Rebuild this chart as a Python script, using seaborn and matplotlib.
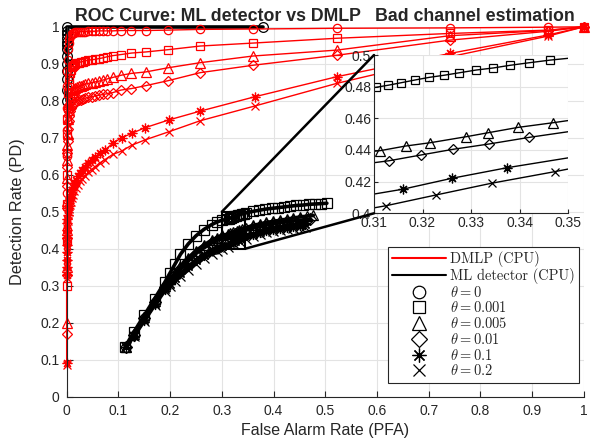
import numpy as np
import pandas as pd
import seaborn as sns
import matplotlib.pyplot as plt
from matplotlib.lines import Line2D
from matplotlib.patches import Rectangle, ConnectionPatch

# ---- DMLP (CPU) curves ----
# false alarm rates shared by theta = 0, 0.001, 0.005, 0.01
fpr_a = [0, 0, 0, 0, 0, 0.001, 0.0015, 0.002, 0.003, 0.004, 0.005, 0.0065, 0.008, 0.01, 0.012,
         0.014, 0.017, 0.02, 0.023, 0.027, 0.031, 0.036, 0.042, 0.048, 0.055, 0.062, 0.07, 0.078,
         0.089, 0.105, 0.125, 0.153, 0.195, 0.258, 0.36, 0.522, 0.741, 0.931, 1.0]
dmlp_t0 = [0.45, 0.55, 0.65, 0.72, 0.78, 0.84, 0.88, 0.91, 0.94, 0.957, 0.967, 0.974, 0.978, 0.981, 0.983,
           0.984, 0.985, 0.986, 0.986, 0.987, 0.987, 0.987, 0.988, 0.988, 0.988, 0.989, 0.989, 0.989,
           0.989, 0.99, 0.99, 0.99, 0.991, 0.993, 0.994, 0.996, 0.997, 0.999, 1.0]
dmlp_t1 = [0.30, 0.42, 0.52, 0.60, 0.66, 0.71, 0.75, 0.78, 0.82, 0.845, 0.86, 0.875, 0.884, 0.891, 0.895,
           0.898, 0.90, 0.902, 0.903, 0.905, 0.906, 0.908, 0.91, 0.911, 0.912, 0.914, 0.916, 0.919,
           0.922, 0.925, 0.929, 0.932, 0.938, 0.948, 0.956, 0.969, 0.982, 0.991, 1.0]
dmlp_t2 = [0.20, 0.35, 0.45, 0.53, 0.59, 0.64, 0.68, 0.71, 0.75, 0.775, 0.79, 0.805, 0.815, 0.823, 0.828,
           0.832, 0.835, 0.837, 0.839, 0.841, 0.843, 0.845, 0.847, 0.849, 0.851, 0.853, 0.856, 0.859,
           0.863, 0.869, 0.874, 0.878, 0.889, 0.903, 0.921, 0.937, 0.976, 0.99, 1.0]
dmlp_t3 = [0.17, 0.33, 0.43, 0.51, 0.57, 0.62, 0.66, 0.69, 0.725, 0.745, 0.76, 0.772, 0.78, 0.786, 0.79,
           0.793, 0.796, 0.799, 0.801, 0.803, 0.805, 0.807, 0.809, 0.811, 0.813, 0.815, 0.817, 0.819,
           0.822, 0.829, 0.833, 0.841, 0.854, 0.876, 0.896, 0.923, 0.964, 0.988, 1.0]
# false alarm rates shared by theta = 0.1, 0.2
fpr_b = [0, 0, 0, 0, 0, 0, 0, 0, 0.001, 0.0015, 0.002, 0.003, 0.004, 0.005, 0.0065, 0.008, 0.01, 0.012,
         0.015, 0.018, 0.022, 0.026, 0.03, 0.036, 0.042, 0.048, 0.055, 0.064, 0.074, 0.089, 0.106, 0.126,
         0.151, 0.197, 0.258, 0.364, 0.522, 0.741, 0.931, 1.0]
dmlp_t4 = [0.09, 0.33, 0.35, 0.37, 0.39, 0.41, 0.43, 0.45, 0.47, 0.48, 0.49, 0.505, 0.515, 0.525, 0.537,
           0.547, 0.558, 0.567, 0.578, 0.587, 0.597, 0.605, 0.612, 0.621, 0.631, 0.64, 0.648, 0.658, 0.667,
           0.685, 0.70, 0.712, 0.727, 0.748, 0.772, 0.811, 0.865, 0.928, 0.978, 1.0]
dmlp_t5 = [0.085, 0.32, 0.34, 0.36, 0.38, 0.40, 0.42, 0.44, 0.455, 0.465, 0.475, 0.49, 0.50, 0.508, 0.518,
           0.527, 0.536, 0.545, 0.555, 0.564, 0.573, 0.582, 0.589, 0.598, 0.607, 0.614, 0.622, 0.632, 0.641,
           0.655, 0.664, 0.68, 0.694, 0.716, 0.746, 0.786, 0.847, 0.919, 0.975, 1.0]

# ---- ML detector (CPU) curves ----
ml_t0_x = [0, 0, 0, 0, 0, 0, 0, 0, 0, 0, 0, 0, 0, 0.38]
ml_t0_y = [0.80, 0.83, 0.86, 0.88, 0.90, 0.92, 0.94, 0.95, 0.96, 0.97, 0.98, 0.99, 1.0, 1.0]

ml_t1_x = [0.113, 0.13, 0.15, 0.17, 0.19, 0.20, 0.21, 0.22, 0.235, 0.25, 0.265, 0.28, 0.29, 0.30,
           0.3104, 0.3129, 0.3156, 0.3184, 0.3214, 0.3244, 0.3276, 0.331, 0.3345, 0.338, 0.3419, 0.3463,
           0.36, 0.372, 0.384, 0.396, 0.408, 0.42, 0.432, 0.444, 0.456, 0.468, 0.48, 0.492, 0.503]
ml_t1_y = [0.135, 0.175, 0.22, 0.265, 0.31, 0.335, 0.36, 0.385, 0.413, 0.435, 0.452, 0.465, 0.472, 0.477,
           0.4796, 0.4809, 0.4825, 0.4842, 0.4859, 0.4872, 0.4888, 0.4905, 0.4918, 0.4935, 0.4951, 0.4968,
           0.501, 0.504, 0.507, 0.509, 0.511, 0.513, 0.515, 0.517, 0.518, 0.52, 0.521, 0.522, 0.523]

ml_t2_x = [0.115, 0.13, 0.15, 0.17, 0.19, 0.20, 0.21, 0.22, 0.235, 0.25, 0.265, 0.28, 0.29, 0.30,
           0.3113, 0.3165, 0.3216, 0.329, 0.3335, 0.3397, 0.3468,
           0.36, 0.373, 0.386, 0.399, 0.412, 0.425, 0.438, 0.451, 0.464, 0.477]
ml_t2_y = [0.135, 0.17, 0.215, 0.26, 0.30, 0.318, 0.335, 0.352, 0.375, 0.395, 0.41, 0.423, 0.43, 0.436,
           0.4396, 0.4425, 0.4446, 0.4484, 0.4509, 0.4543, 0.4572,
           0.463, 0.467, 0.471, 0.474, 0.477, 0.48, 0.483, 0.486, 0.488, 0.49]

ml_t3_x = [0.115, 0.13, 0.15, 0.17, 0.19, 0.20, 0.21, 0.22, 0.235, 0.25, 0.265, 0.28, 0.29, 0.30,
           0.3131, 0.3196, 0.3262, 0.3337, 0.342,
           0.36, 0.373, 0.386, 0.399, 0.412, 0.425, 0.438, 0.451, 0.464, 0.47]
ml_t3_y = [0.135, 0.168, 0.212, 0.256, 0.296, 0.313, 0.329, 0.345, 0.367, 0.387, 0.402, 0.415, 0.422, 0.428,
           0.4332, 0.4368, 0.4404, 0.4438, 0.448,
           0.456, 0.46, 0.464, 0.467, 0.47, 0.473, 0.475, 0.477, 0.479, 0.48]

ml_t4_x = [0.115, 0.13, 0.15, 0.17, 0.19, 0.20, 0.21, 0.22, 0.235, 0.25, 0.265, 0.28, 0.29, 0.30,
           0.3159, 0.326, 0.3374,
           0.36, 0.373, 0.386, 0.399, 0.412, 0.425, 0.438, 0.451, 0.46]
ml_t4_y = [0.135, 0.165, 0.208, 0.25, 0.29, 0.305, 0.32, 0.334, 0.352, 0.37, 0.384, 0.396, 0.402, 0.407,
           0.4152, 0.4221, 0.4288,
           0.44, 0.445, 0.45, 0.454, 0.457, 0.46, 0.462, 0.464, 0.466]

ml_t5_x = [0.115, 0.13, 0.15, 0.17, 0.19, 0.20, 0.21, 0.22, 0.235, 0.25, 0.265, 0.28, 0.29, 0.30,
           0.3125, 0.3228, 0.3342, 0.3472,
           0.36, 0.373, 0.386, 0.399, 0.412, 0.425, 0.438, 0.451, 0.46]
ml_t5_y = [0.135, 0.163, 0.205, 0.247, 0.287, 0.30, 0.313, 0.325, 0.343, 0.36, 0.374, 0.386, 0.393, 0.398,
           0.4048, 0.4116, 0.419, 0.4263,
           0.434, 0.439, 0.444, 0.448, 0.451, 0.454, 0.456, 0.458, 0.46]

series_labels = ['DMLP (CPU)', 'ML detector (CPU)']
theta_labels = [r'$\theta = 0$', r'$\theta = 0.001$', r'$\theta = 0.005$',
                r'$\theta = 0.01$', r'$\theta = 0.1$', r'$\theta = 0.2$']
markers = ['o', 's', '^', 'D', (8, 2, 0), 'x']
msizes = [6, 5.5, 6.5, 5, 7, 6]

dmlp = [(fpr_a, dmlp_t0), (fpr_a, dmlp_t1), (fpr_a, dmlp_t2),
        (fpr_a, dmlp_t3), (fpr_b, dmlp_t4), (fpr_b, dmlp_t5)]
ml = [(ml_t0_x, ml_t0_y), (ml_t1_x, ml_t1_y), (ml_t2_x, ml_t2_y),
      (ml_t3_x, ml_t3_y), (ml_t4_x, ml_t4_y), (ml_t5_x, ml_t5_y)]

sns.set_theme(style="whitegrid")
plt.rcParams['font.family'] = ['Liberation Sans', 'DejaVu Sans']
plt.rcParams['mathtext.fontset'] = 'cm'

axcol = '#262626'
fig = plt.figure(figsize=(5.98, 4.43), dpi=100)
fig.patch.set_facecolor('white')
ax = fig.add_axes([0.1115, 0.1045, 0.865, 0.835])


def draw(a, data, mks, sizes, color, lw, clip, grow=0):
    for (xs, ys), m, ms in zip(data, mks, sizes):
        df = pd.DataFrame({'x': xs, 'y': ys})
        sns.lineplot(data=df, x='x', y='y', ax=a, sort=False, estimator=None, color=color,
                     lw=lw, marker=m, markersize=ms + grow, markerfacecolor='none',
                     markeredgecolor=color, markeredgewidth=0.9, clip_on=clip, legend=False)


draw(ax, ml, markers, msizes, 'black', 2.6, False, grow=1)
draw(ax, dmlp, markers, msizes, 'red', 1.0, False)

ax.set_xlim(0, 1)
ax.set_ylim(0, 1)
ax.set_xticks(np.arange(0, 1.01, 0.1))
ax.set_yticks(np.arange(0, 1.01, 0.1))
ax.set_xticklabels(['0', '0.1', '0.2', '0.3', '0.4', '0.5', '0.6', '0.7', '0.8', '0.9', '1'])
ax.set_yticklabels(['0', '0.1', '0.2', '0.3', '0.4', '0.5', '0.6', '0.7', '0.8', '0.9', '1'])
ax.set_facecolor('white')
ax.grid(True, color='#e3e3e3', lw=0.8)
for s in ['top', 'right']:
    ax.spines[s].set_visible(False)
for s in ['left', 'bottom']:
    ax.spines[s].set_color(axcol)
    ax.spines[s].set_linewidth(0.8)
ax.tick_params(direction='in', length=4, width=0.8, color=axcol, labelsize=10,
               labelcolor=axcol, pad=5, left=True, bottom=True)
ax.set_xlabel('False Alarm Rate (PFA)', fontsize=11.5, color=axcol, labelpad=4)
ax.set_ylabel('Detection Rate (PD)', fontsize=11.8, color=axcol, labelpad=11)
ax.set_title('ROC Curve: ML detector vs DMLP   Bad channel estimation',
             fontsize=12.8, fontweight='bold', pad=4)

# zoom box
ax.add_patch(Rectangle((0.30, 0.40), 0.045, 0.10, fill=False, ec='black', lw=1.5, zorder=5))

# inset
axi = fig.add_axes([0.6254, 0.5185, 0.3249, 0.3573])
draw(axi, ml[1:], markers[1:], msizes[1:], 'black', 1.0, True)
axi.set_xlim(0.31, 0.35)
axi.set_ylim(0.40, 0.50)
axi.set_xticks([0.31, 0.32, 0.33, 0.34, 0.35])
axi.set_yticks([0.40, 0.42, 0.44, 0.46, 0.48, 0.50])
axi.set_xticklabels(['0.31', '0.32', '0.33', '0.34', '0.35'])
axi.set_yticklabels(['0.4', '0.42', '0.44', '0.46', '0.48', '0.5'])
axi.set_xlabel('')
axi.set_ylabel('')
axi.set_facecolor('white')
axi.grid(True, color='#e3e3e3', lw=0.8)
for s in ['top', 'right']:
    axi.spines[s].set_visible(False)
for s in ['left', 'bottom']:
    axi.spines[s].set_color(axcol)
    axi.spines[s].set_linewidth(0.8)
axi.tick_params(direction='in', length=3, width=0.8, color=axcol, labelsize=10,
                labelcolor=axcol, pad=2, left=True, bottom=True)

# connector lines
for p_main, p_in in [((0.30, 0.50), (0.31, 0.50)), ((0.345, 0.40), (0.31, 0.40))]:
    con = ConnectionPatch(xyA=p_main, coordsA=ax.transData, xyB=p_in, coordsB=axi.transData,
                          color='black', lw=1.8)
    fig.add_artist(con)

# legend
handles = [Line2D([], [], color='red', lw=1.5), Line2D([], [], color='black', lw=1.5)]
for m, ms in zip(markers, msizes):
    handles.append(Line2D([], [], ls='none', marker=m, markersize=ms + 3, markerfacecolor='none',
                          markeredgecolor='black', markeredgewidth=0.9))
labels = series_labels + theta_labels
leg = fig.legend(handles, labels, loc='upper left', bbox_to_anchor=(388 / 598, 1 - 247 / 443),
                 fontsize=10.4, frameon=True, fancybox=False, edgecolor=axcol, framealpha=1,
                 handlelength=3.7, handletextpad=0.3, borderpad=0.3, labelspacing=0.05,
                 borderaxespad=0)
leg.get_frame().set_linewidth(0.8)
for t in leg.get_texts()[:2]:
    t.set_family(['cmr10', 'DejaVu Serif'])

fig.savefig('out.png', dpi=100, facecolor='white')
